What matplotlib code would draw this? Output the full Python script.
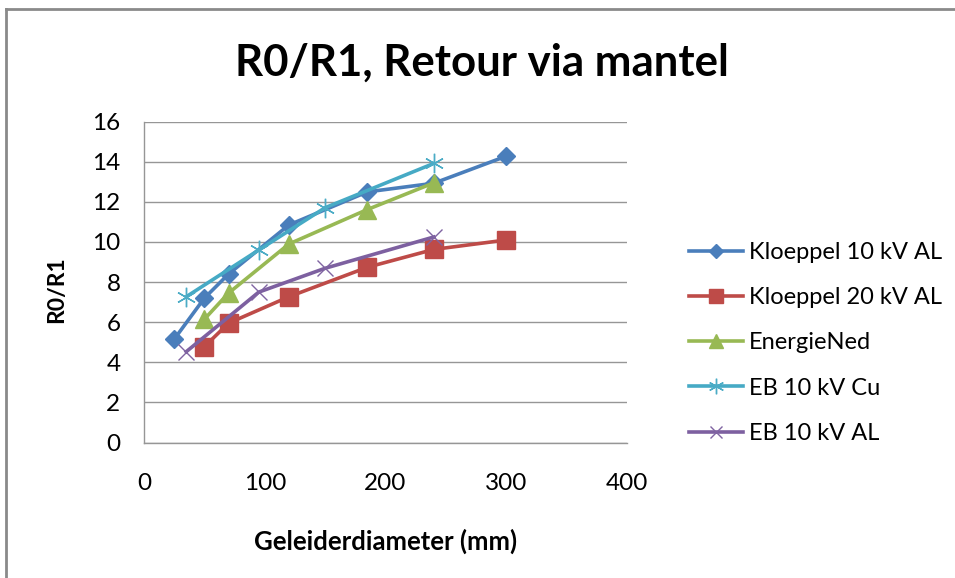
import matplotlib
matplotlib.use("Agg")
import matplotlib.pyplot as plt
from matplotlib.lines import Line2D

plt.rcParams['font.family'] = ['Lato', 'DejaVu Sans']

# Geleiderdiameter (mm) per reeks en gemeten R0/R1
kl10_x = [25, 50, 70, 120, 185, 240, 300]
kl10_y = [5.15, 7.2, 8.4, 10.85, 12.5, 12.93, 14.28]

kl20_x = [50, 70, 120, 185, 240, 300]
kl20_y = [4.78, 5.95, 7.27, 8.74, 9.63, 10.1]

en_x = [50, 70, 120, 185, 240]
en_y = [6.15, 7.45, 9.9, 11.62, 12.95]

ebcu_x = [35, 95, 150, 240]
ebcu_y = [7.27, 9.6, 11.71, 13.92]

ebal_x = [35, 95, 150, 240]
ebal_y = [4.53, 7.5, 8.69, 10.25]

labels = ['Kloeppel 10 kV AL', 'Kloeppel 20 kV AL', 'EnergieNed',
          'EB 10 kV Cu', 'EB 10 kV AL']

fig = plt.figure(figsize=(9.55, 5.78), dpi=100)
ax = fig.add_axes([144/955, 1 - 442.5/578, (627 - 144)/955, (442.5 - 121.7)/578])

lw = 2.6
ax.plot(kl10_x, kl10_y, color='#4A7EBB', lw=lw, marker='D', ms=9,
        label=labels[0])
ax.plot(kl20_x, kl20_y, color='#BE4B48', lw=lw, marker='s', ms=13,
        label=labels[1])
ax.plot(en_x, en_y, color='#98B954', lw=lw, marker='^', ms=13,
        label=labels[2])
ax.plot(ebcu_x, ebcu_y, color='#46AAC5', lw=lw, marker=(6, 2, 0), ms=14,
        mew=1.0, mec='#4BACC6', label=labels[3])
ax.plot(ebal_x, ebal_y, color='#7D60A0', lw=lw, marker='x', ms=11,
        mew=1.0, mec='#8064A2', label=labels[4])

ax.set_xlim(0, 400)
ax.set_ylim(0, 16)
ax.set_xticks(range(0, 401, 100))
ax.set_yticks(range(0, 17, 2))
ax.grid(axis='y', color='#969696', lw=1.0)
ax.set_axisbelow(True)
ax.tick_params(length=0, labelsize=17.5, colors='#000000')
ax.tick_params(axis='y', pad=17)
ax.tick_params(axis='x', pad=22)
for s in ['top', 'right']:
    ax.spines[s].set_visible(False)
for s in ['left', 'bottom']:
    ax.spines[s].set_color('#969696')
    ax.spines[s].set_linewidth(1.0)

fig.text(482/955, 1 - 63/578, 'R0/R1, Retour via mantel', ha='center',
         va='center', fontsize=31.5, fontweight='bold')
fig.text(57/955, 1 - 290/578, 'R0/R1', rotation=90, ha='center',
         va='center', fontsize=16.5, fontweight='bold')
fig.text(386/955, 1 - 541/578, 'Geleiderdiameter (mm)', ha='center',
         va='center', fontsize=18.5, fontweight='bold')

leg = fig.legend(loc='upper left', bbox_to_anchor=(677/955, 1 - 230/578),
                 frameon=False, fontsize=17, labelspacing=1.03,
                 handlelength=2.3, handletextpad=0.25, borderpad=0,
                 markerscale=0.8)

# rand van het diagram (alleen boven- en linkerkant in beeld)
fig.add_artist(Line2D([6/955, 1], [1 - 9/578, 1 - 9/578], color='#8A8A8A',
                      lw=2, transform=fig.transFigure))
fig.add_artist(Line2D([6/955, 6/955], [0, 1 - 9/578], color='#8A8A8A',
                      lw=2, transform=fig.transFigure))

fig.savefig('out.png', dpi=100)
